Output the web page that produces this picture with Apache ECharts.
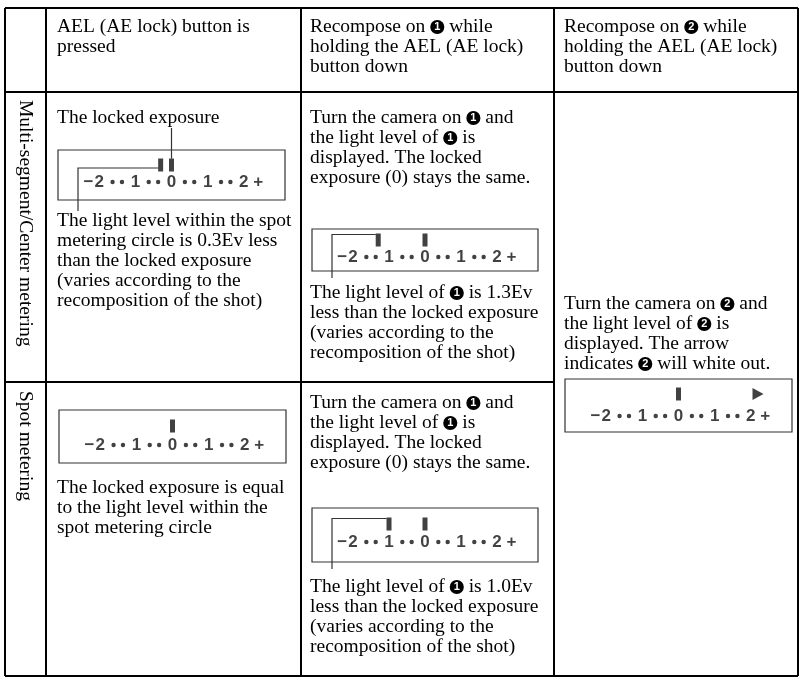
<!DOCTYPE html>
<html><head><meta charset="utf-8">
<script src="https://cdn.jsdelivr.net/npm/echarts@6/dist/echarts.min.js"></script>
<style>html,body{margin:0;padding:0;background:#fff}#c{width:804px;height:679px}</style>
</head><body><div id="c"></div>
<script>
// ---------------- data ----------------
const scaleTickValues = [-2, -1, 0, 1, 2];
const scaleTickLabels = ['2', '1', '0', '1', '2'];
const scaleSignValues = [-2.3, 2.4];
const scaleSignLabels = ['\u2212', '+'];
const scaleDotValues = [-1.63, -1.37, -0.63, -0.37, 0.37, 0.63, 1.37, 1.63];

// meters: multi-lock, multi-recompose1, spot-lock, spot-recompose1, recompose2
const lockedExposureEv = [0, 0, 0, 0, 0];
const lightLevelEv = [-0.3, -1.3, null, -1.0, null];
const overRangeArrowEv = [null, null, null, null, 2.2];

const headerCol1 = ['AEL (AE lock) button is', 'pressed'];
const headerCol2 = ['Recompose on {n|1} while', 'holding the AEL (AE lock)', 'button down'];
const headerCol3 = ['Recompose on {n|2} while', 'holding the AEL (AE lock)', 'button down'];
const rowLabels = ['Multi-segment/Center metering', 'Spot metering'];
const multiLockTop = ['The locked exposure'];
const multiLockBottom = ['The light level within the spot', 'metering circle is 0.3Ev less', 'than the locked exposure', '(varies according to the', 'recomposition of the shot)'];
const recompose1Top = ['Turn the camera on {n|1} and', 'the light level of {n|1} is', 'displayed. The locked', 'exposure (0) stays the same.'];
const multiRecompose1Bottom = ['The light level of {n|1} is 1.3Ev', 'less than the locked exposure', '(varies according to the', 'recomposition of the shot)'];
const spotLockBottom = ['The locked exposure is equal', 'to the light level within the', 'spot metering circle'];
const spotRecompose1Bottom = ['The light level of {n|1} is 1.0Ev', 'less than the locked exposure', '(varies according to the', 'recomposition of the shot)'];
const recompose2Text = ['Turn the camera on {n|2} and', 'the light level of {n|2} is', 'displayed. The arrow', 'indicates {n|2} will white out.'];

// ---------------- layout ----------------
const boxes = [
  {left: 58, top: 150, width: 227, height: 50, barY: 15, labelY: 32},
  {left: 312, top: 229, width: 226, height: 42, barY: 11, labelY: 28},
  {left: 59, top: 410, width: 227, height: 53, barY: 16, labelY: 35},
  {left: 312, top: 508, width: 226, height: 54, barY: 16, labelY: 34},
  {left: 565, top: 379, width: 227, height: 53, barY: 15, labelY: 37}
];

const chart = echarts.init(document.getElementById('c'), null, {renderer: 'canvas'});

const grids = [], xAxes = [], yAxes = [], series = [];
boxes.forEach((b, i) => {
  grids.push({show: true, left: b.left, top: b.top, width: b.width, height: b.height,
    borderColor: '#333', borderWidth: 1.2, backgroundColor: 'transparent'});
  xAxes.push({type: 'value', gridIndex: i, min: -3.14, max: 3.14, show: false});
  yAxes.push({type: 'value', gridIndex: i, min: 0, max: b.height, inverse: true, show: false});
  const labelData = scaleTickValues.map((v, k) => ({value: [v, b.labelY], name: scaleTickLabels[k]}))
    .concat(scaleSignValues.map((v, k) => ({value: [v, b.labelY], name: scaleSignLabels[k]})));
  series.push({type: 'scatter', xAxisIndex: i, yAxisIndex: i, symbolSize: 0, silent: true,
    itemStyle: {color: 'rgba(0,0,0,0)'},
    label: {show: true, position: 'inside', formatter: p => p.name, color: '#111',
      fontFamily: 'Liberation Sans', fontWeight: 'bold', fontSize: 17},
    data: labelData});
  series.push({type: 'scatter', xAxisIndex: i, yAxisIndex: i, symbol: 'circle', symbolSize: 4.4, silent: true,
    itemStyle: {color: '#111'}, data: scaleDotValues.map(v => [v, b.labelY])});
  const bars = [lockedExposureEv[i], lightLevelEv[i]].filter(v => v !== null).map(v => [v, b.barY]);
  series.push({type: 'scatter', xAxisIndex: i, yAxisIndex: i, symbol: 'rect', symbolSize: [5, 13], silent: true,
    itemStyle: {color: '#111'}, data: bars});
  if (overRangeArrowEv[i] !== null) {
    series.push({type: 'scatter', xAxisIndex: i, yAxisIndex: i, symbol: 'triangle', symbolRotate: -90,
      symbolSize: [12, 11], silent: true, itemStyle: {color: '#111'}, data: [[overRangeArrowEv[i], b.barY]]});
  }
});

chart.setOption({animation: false, grid: grids, xAxis: xAxes, yAxis: yAxes, series: series});

// ---------------- table, text, leaders ----------------
const FONT = 'Liberation Serif', FS = 19.5;
const rich = {n: {height: 14, borderRadius: 7, padding: [0, 4], backgroundColor: '#000', fill: '#fff',
  verticalAlign: 'middle', fontFamily: 'Liberation Sans', fontWeight: 'bold', fontSize: 11, lineHeight: 14}};
function para(lines, x, firstCenter) {
  return {type: 'text', silent: true, style: {text: lines.join('\n'), x: x, y: firstCenter - 10,
    fontFamily: FONT, fontSize: FS, lineHeight: 20, fill: '#000', verticalAlign: 'top', align: 'left', rich: rich}};
}
function line(x1, y1, x2, y2, w, c) {
  return {type: 'line', silent: true, shape: {x1, y1, x2, y2}, style: {stroke: c || '#000', lineWidth: w || 2}};
}
function poly(pts, c) {
  return {type: 'polyline', silent: true, shape: {points: pts}, style: {stroke: c || '#333', lineWidth: 1.2, fill: null}};
}
const L = 5, R = 798, T = 8, B = 676, C0 = 46, C1 = 301, C2 = 554, H = 92, M = 382;
const els = [
  line(L, T, R, T), line(L, B, R, B), line(L, T, L, B), line(R, T, R, B),
  line(C0, T, C0, B), line(C1, T, C1, B), line(C2, T, C2, B),
  line(L, H, R, H), line(L, M, C2, M),
  para(headerCol1, 57, 27), para(headerCol2, 310, 27), para(headerCol3, 564, 27),
  {type: 'text', silent: true, x: 25, y: 100, rotation: -Math.PI / 2,
    style: {text: rowLabels[0], x: 0, y: 0, fontFamily: FONT, fontSize: FS, fill: '#000', align: 'left', verticalAlign: 'middle'}},
  {type: 'text', silent: true, x: 25, y: 391, rotation: -Math.PI / 2,
    style: {text: rowLabels[1], x: 0, y: 0, fontFamily: FONT, fontSize: FS, fill: '#000', align: 'left', verticalAlign: 'middle'}},
  para(multiLockTop, 57, 118), para(multiLockBottom, 57, 221),
  para(recompose1Top, 310, 118), para(multiRecompose1Bottom, 310, 293),
  para(spotLockBottom, 57, 488),
  para(recompose1Top, 310, 403), para(spotRecompose1Bottom, 310, 587),
  para(recompose2Text, 564, 304)
];
// leader lines attached to bar positions through the grid scales
const px = (i, v, y) => chart.convertToPixel({gridIndex: i}, [v, y]);
const lock0 = px(0, lockedExposureEv[0], boxes[0].barY - 6.5);
els.push(line(lock0[0], 128, lock0[0], lock0[1], 1.2, '#333'));
const l0 = px(0, lightLevelEv[0], boxes[0].barY + 3);
els.push(poly([[78, 211], [78, l0[1]], [l0[0] - 2.5, l0[1]]]));
const l1 = px(1, lightLevelEv[1], boxes[1].barY - 5.5);
els.push(poly([[332, boxes[1].top + boxes[1].height + 7], [332, l1[1]], [l1[0] - 2.5, l1[1]]]));
const l3 = px(3, lightLevelEv[3], boxes[3].barY - 5.5);
els.push(poly([[332, boxes[3].top + boxes[3].height + 7], [332, l3[1]], [l3[0] - 2.5, l3[1]]]));
chart.setOption({graphic: {elements: els}});
</script></body></html>
